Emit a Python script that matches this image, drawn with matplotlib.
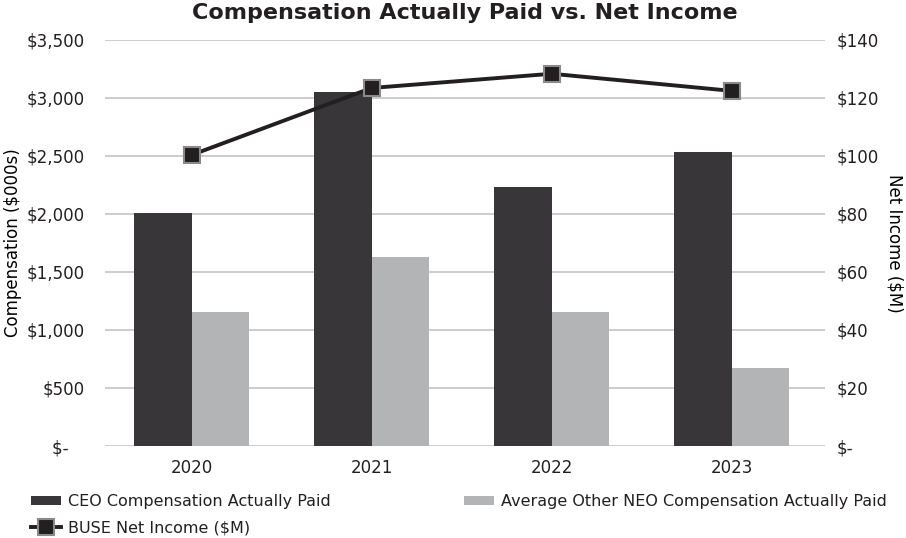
import numpy as np
import matplotlib
matplotlib.use("Agg")
import matplotlib.pyplot as plt
from matplotlib.ticker import FuncFormatter

years = ["2020", "2021", "2022", "2023"]
ceo_cap = [2009, 3052, 2233, 2534]
neo_cap = [1158, 1629, 1158, 672]
net_income = [100.3, 123.4, 128.3, 122.4]

CEO_COLOR = "#383638"
NEO_COLOR = "#b3b4b6"
LINE_COLOR = "#231f20"
GRID_COLOR = "#c4c4c4"
TEXT_COLOR = "#231f20"

plt.rcParams["font.family"] = ["DejaVu Sans"]
plt.rcParams["text.color"] = TEXT_COLOR

fig = plt.figure(figsize=(9.06, 5.38), dpi=100)
ax = fig.add_axes([0.116, 0.171, 0.795, 0.755])
ax2 = ax.twinx()

x = np.arange(len(years))
w = 0.32
b1 = ax.bar(x - w / 2, ceo_cap, w, color=CEO_COLOR, label="CEO Compensation Actually Paid", zorder=2)
b2 = ax.bar(x + w / 2, neo_cap, w, color=NEO_COLOR, label="Average Other NEO Compensation Actually Paid", zorder=2)

ln, = ax2.plot(x, net_income, color=LINE_COLOR, lw=2.8, marker="s", markersize=11,
               markerfacecolor=LINE_COLOR, markeredgecolor="#8a8a8a", markeredgewidth=1.5,
               label="BUSE Net Income ($M)", zorder=3)

ax.set_xlim(-0.48, 3.52)
ax.set_ylim(0, 3500)
ax.set_yticks(np.arange(0, 3501, 500))
ax2.set_ylim(0, 140)
ax2.set_yticks(np.arange(0, 141, 20))

# accounting style: zero shown as "$-" with trailing padding
ax.yaxis.set_major_formatter(FuncFormatter(lambda v, p: "$-   " if v == 0 else f"${v:,.0f}"))
ax2.yaxis.set_major_formatter(FuncFormatter(lambda v, p: "$-" if v == 0 else f"${v:,.0f}"))

ax.set_xticks(x)
ax.set_xticklabels(years)
ax.grid(axis="y", color=GRID_COLOR, lw=1.2, zorder=0)
ax.set_axisbelow(True)

for a in (ax, ax2):
    for s in a.spines.values():
        s.set_visible(False)
    a.tick_params(length=0, labelsize=12, colors=TEXT_COLOR)
ax.tick_params(axis="y", pad=15)
ax2.tick_params(axis="y", pad=8)
ax.tick_params(axis="x", pad=9)
ax.set_zorder(ax2.get_zorder() - 1)
ax.patch.set_visible(True)
ax2.patch.set_visible(False)

ax.set_ylabel("Compensation ($000s)", fontsize=12, labelpad=3)
ax2.set_ylabel("Net Income ($M)", fontsize=12, rotation=-90, labelpad=18)
ax.set_title("Compensation Actually Paid vs. Net Income", fontsize=16, fontweight="heavy", pad=15)

leg = fig.legend([b1, ln, b2],
                 [b1.get_label(), ln.get_label(), b2.get_label()],
                 ncol=2, loc="upper left", bbox_to_anchor=(0.018, 0.108),
                 frameon=False, handlelength=1.9, handleheight=0.55, columnspacing=8.3,
                 labelspacing=0.7, handletextpad=0.45,
                 prop={"family": ["DejaVu Sans"], "size": 11.5})

fig.savefig("out.png", dpi=100)
